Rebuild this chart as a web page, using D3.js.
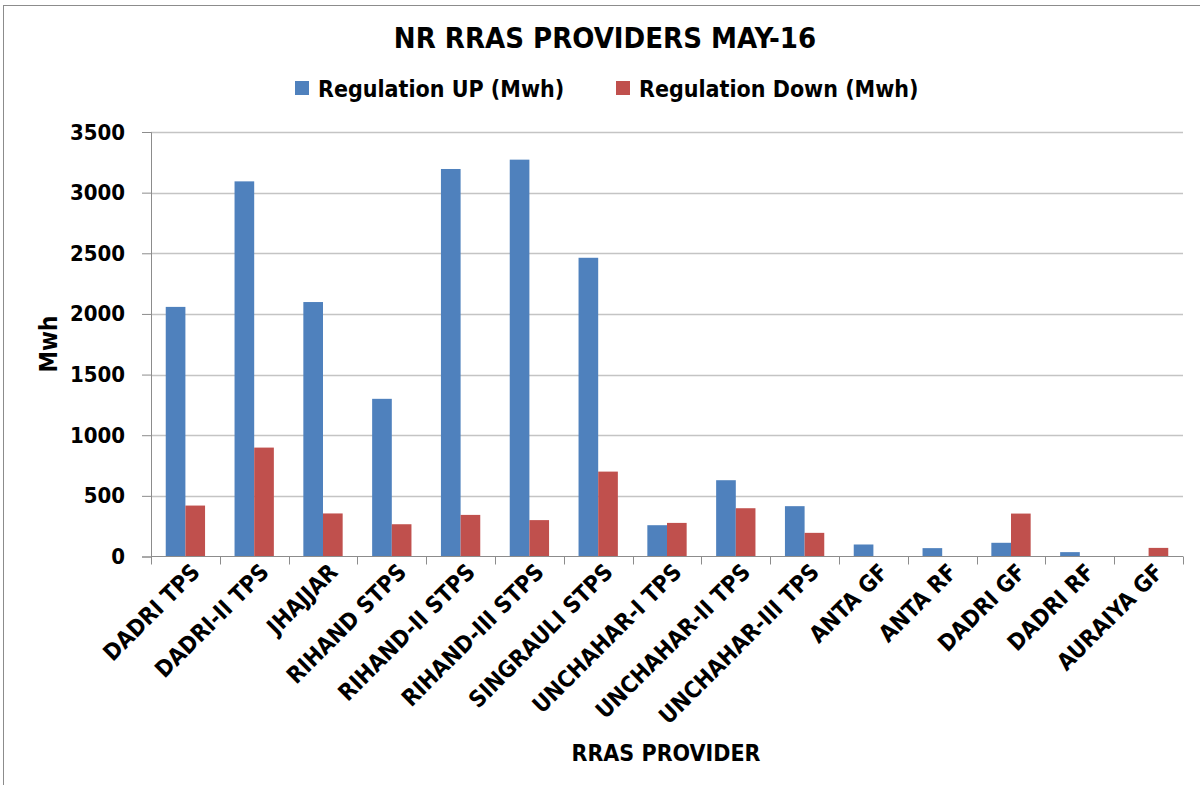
<!DOCTYPE html>
<html>
<head>
<meta charset="utf-8">
<script src="https://cdn.jsdelivr.net/npm/d3@7"></script>
<style>
    body { margin: 0; background: #fff; }
    text { font-family: "DejaVu Sans Condensed", "DejaVu Sans", sans-serif; font-stretch: condensed; font-weight: bold; fill: #000; }
</style>
</head>
<body>
<script>
var providers = ["DADRI TPS", "DADRI-II TPS", "JHAJJAR", "RIHAND STPS", "RIHAND-II STPS",
"RIHAND-III STPS", "SINGRAULI STPS", "UNCHAHAR-I TPS", "UNCHAHAR-II TPS", "UNCHAHAR-III TPS",
"ANTA GF", "ANTA RF", "DADRI GF", "DADRI RF", "AURAIYA GF"];

var regulationUp = [2058, 3093, 2098, 1300, 3195, 3272, 2463, 258, 629, 415, 99, 69, 113, 36, 0];
var regulationDown = [420, 898, 355, 266, 343, 300, 700, 277, 398, 195, 0, 0, 354, 0, 71];

var seriesNames = ["Regulation UP (Mwh)", "Regulation Down (Mwh)"];
var seriesColors = ["#4F81BD", "#C0504D"];
var yTicks = [0, 500, 1000, 1500, 2000, 2500, 3000, 3500];

var width = 1200, height = 785;
var plot = {left: 151, right: 1183, top: 132, bottom: 556.5};

var svg = d3.select("body")
    .append("svg")
        .attr("width", width)
        .attr("height", height);

// thin frame round the chart area (only top / left visible in the crop)
svg.append("rect")
    .attr("x", 3.5)
    .attr("y", 5.5)
    .attr("width", width + 10)
    .attr("height", height + 10)
    .style("fill", "none")
    .style("stroke", "#8c8c8c")
    .style("stroke-width", 1);

// Set the ranges
var x = d3.scaleBand().domain(providers).range([plot.left, plot.right]);
var xSub = d3.scaleBand().domain([0, 1]).range([0, x.bandwidth()]).paddingInner(0).paddingOuter(0.75);
var y = d3.scaleLinear().domain([0, 3500]).range([plot.bottom, plot.top]);

// gridlines
svg.append("g")
    .selectAll("line")
    .data(yTicks.slice(1))
    .enter().append("line")
        .attr("x1", plot.left)
        .attr("x2", plot.right)
        .attr("y1", function(d) { return Math.round(y(d)) + 0.5; })
        .attr("y2", function(d) { return Math.round(y(d)) + 0.5; })
        .style("stroke", "#c4c4c4")
        .style("stroke-width", 1.5);

// bars
var rows = providers.map(function(p, i) { return {name: p, values: [regulationUp[i], regulationDown[i]]}; });

var groups = svg.append("g")
    .selectAll("g")
    .data(rows)
    .enter().append("g")
        .attr("transform", function(d) { return "translate(" + x(d.name) + ",0)"; });

groups.selectAll("rect")
    .data(function(d) { return d.values.map(function(v, k) { return {k: k, v: v}; }); })
    .enter().append("rect")
        .attr("x", function(d) { return xSub(d.k); })
        .attr("width", xSub.bandwidth())
        .attr("y", function(d) { return y(d.v); })
        .attr("height", function(d) { return y(0) - y(d.v); })
        .style("fill", function(d) { return seriesColors[d.k]; });

// Add the Y Axis
var yAxis = svg.append("g")
    .attr("transform", "translate(" + plot.left + ",0)")
    .call(d3.axisLeft(y).tickValues(yTicks).tickFormat(d3.format("d")).tickSize(9).tickPadding(17));
yAxis.select(".domain").style("stroke", "#8c8c8c");
yAxis.selectAll(".tick line").style("stroke", "#8c8c8c");
yAxis.selectAll(".tick text").style("font-size", "22px");

// Add the X Axis (ticks sit between categories)
var boundaries = providers.map(function(p) { return x(p); }).concat([plot.right]);
svg.append("line")
    .attr("x1", plot.left).attr("x2", plot.right)
    .attr("y1", plot.bottom).attr("y2", plot.bottom)
    .style("stroke", "#8c8c8c");
svg.append("g")
    .selectAll("line")
    .data(boundaries)
    .enter().append("line")
        .attr("x1", function(d) { return Math.round(d) + 0.5; })
        .attr("x2", function(d) { return Math.round(d) + 0.5; })
        .attr("y1", plot.bottom)
        .attr("y2", plot.bottom + 8)
        .style("stroke", "#8c8c8c");

svg.append("g")
    .selectAll("text")
    .data(providers)
    .enter().append("text")
        .attr("transform", function(d) { return "translate(" + (x(d) + x.bandwidth() / 2 + 16) + "," + (plot.bottom + 17) + ") rotate(-45)"; })
        .style("text-anchor", "end")
        .style("font-size", "23px")
        .text(function(d) { return d; });

// title
svg.append("text")
    .attr("x", 605)
    .attr("y", 48)
    .style("text-anchor", "middle")
    .style("font-size", "29px")
    .text("NR RRAS PROVIDERS MAY-16");

// legend
var legendX = [295, 616];
seriesNames.forEach(function(s, i) {
    svg.append("rect")
        .attr("x", legendX[i])
        .attr("y", 81)
        .attr("width", 14)
        .attr("height", 14)
        .style("fill", seriesColors[i]);
    svg.append("text")
        .attr("x", legendX[i] + 23)
        .attr("y", 97)
        .style("font-size", "23px")
        .text(s);
});

// Add axis labels
svg.append("text")
    .attr("transform", "translate(57,344) rotate(-90)")
    .style("text-anchor", "middle")
    .style("font-size", "24px")
    .text("Mwh");

svg.append("text")
    .attr("x", 666)
    .attr("y", 761)
    .style("text-anchor", "middle")
    .style("font-size", "23px")
    .text("RRAS PROVIDER");
</script>
</body>
</html>
